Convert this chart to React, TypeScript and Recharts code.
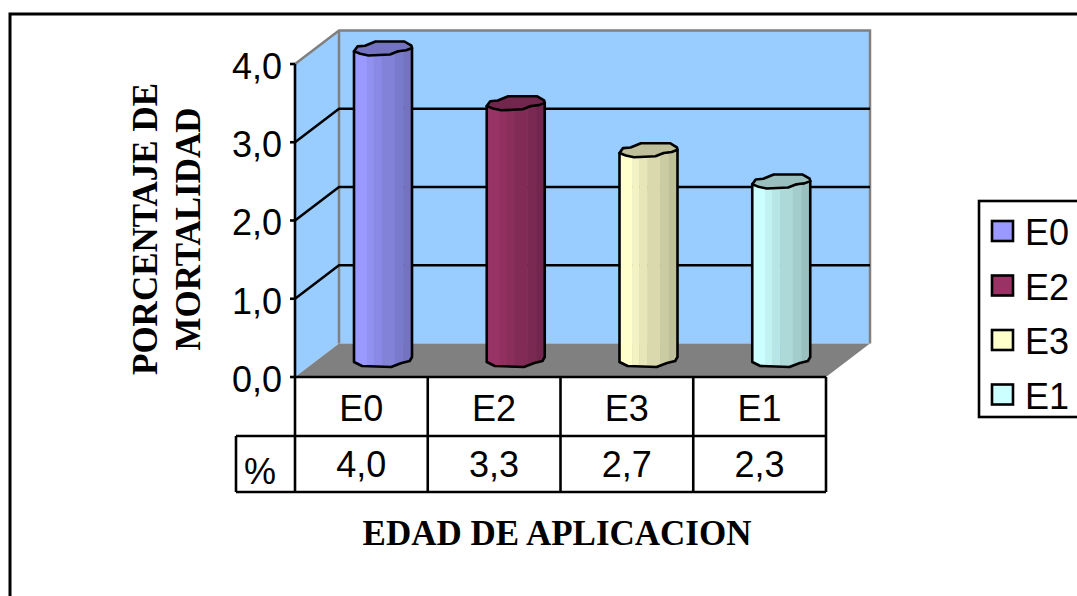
import React from 'react';
import { BarChart, Bar, XAxis, YAxis, CartesianGrid } from 'recharts';

const categories = ['E0', 'E2', 'E3', 'E1'];
const mortality = [4.0, 3.3, 2.7, 2.3];
const barColors = ['#9999FF', '#993366', '#FFFFCC', '#CCFFFF'];
const yTicks = [0, 1, 2, 3, 4];

const chartData = categories.map((name, index) => ({
  name,
  value: mortality[index],
  valueLabel: mortality[index].toFixed(1).replace('.', ','),
}));

const WIDTH = 1077;
const HEIGHT = 596;
// front plane of the plot
const LEFT = 295;
const RIGHT = 826;
const TOP = 64;
const BOTTOM = 377;
// depth of the fake 3D box
const DEPTH_X = 44;
const DEPTH_Y = 33.5;
const ROW = 58;

const WALL = '#99CCFF';
const GRAY = '#808080';
const SANS = '"Liberation Sans", Arial, sans-serif';
const SERIF = '"Liberation Serif", "Times New Roman", serif';

const shade = (hex: string, k: number) => {
  const n = parseInt(hex.slice(1), 16);
  const c = [(n >> 16) & 255, (n >> 8) & 255, n & 255].map((v) => Math.round(v * k));
  return `rgb(${c[0]},${c[1]},${c[2]})`;
};

// polygon-ish outline of the cylinder cap, traced from the old Excel render
const CAP = [
  [0, 0.7], [0.06, 0.35], [0.19, 0.3], [0.37, 0], [0.87, 0], [0.99, 0.3], [1, 0.47],
  [0.9, 0.63], [0.76, 0.7], [0.62, 0.93], [0.25, 1], [0.11, 0.88],
];
const BANDS = [
  [0, 0.22, 1],
  [0.22, 0.34, 0.95],
  [0.34, 0.48, 0.9],
  [0.48, 0.7, 0.85],
  [0.7, 0.85, 0.8],
  [0.85, 1, 0.75],
];

const Cylinder = (props: any) => {
  const { x, y, width, height, index } = props;
  const color = barColors[index];
  const left = x + DEPTH_X / 2;
  const right = left + width;
  const capH = 14;
  const top = y - 16 - capH / 2 + 0.5;
  const base = y + height - 16;
  const capPath = CAP.map(([a, b], i) => `${i ? 'L' : 'M'}${left + a * width},${top + b * capH}`).join(' ') + ' Z';
  const bodyTop = top + 0.7 * capH;
  const at = (a: number) => left + a * width;
  const outline = `M${left},${bodyTop} L${left},${base + 1} L${at(0.14)},${base + 5} L${at(0.64)},${base + 6} L${at(0.82)},${base + 2} L${at(0.96)},${base} L${right},${base - 4} L${right},${top + 0.47 * capH} L${at(0.76)},${bodyTop} Z`;
  const clipId = `body-${index}`;
  return (
    <g>
      <defs>
        <clipPath id={clipId}>
          <path d={outline} />
        </clipPath>
      </defs>
      <g clipPath={`url(#${clipId})`}>
        {BANDS.map(([a, b, k]) => (
          <rect key={a} x={at(a)} y={top} width={(b - a) * width + 0.5} height={base - top + 10} fill={shade(color, k)} />
        ))}
      </g>
      <path d={outline} fill="none" stroke="#000" strokeWidth={2.6} strokeLinejoin="round" />
      <path d={capPath} fill={shade(color, 0.75)} stroke="#000" strokeWidth={2.6} strokeLinejoin="round" />
    </g>
  );
};

// back wall, side wall and floor sit in their own svg behind the chart
const Backdrop = () => {
  const bx0 = LEFT + DEPTH_X;
  const bx1 = RIGHT + DEPTH_X;
  const by0 = TOP - DEPTH_Y;
  const by1 = BOTTOM - DEPTH_Y;
  return (
    <svg width={WIDTH} height={HEIGHT} style={{ position: 'absolute', left: 0, top: 0 }}>
      <rect x={10} y={14} width={WIDTH + 20} height={HEIGHT + 20} fill="#fff" stroke="#000" strokeWidth={3} />
      <polygon points={`${LEFT},${TOP} ${bx0},${by0} ${bx0},${by1} ${LEFT},${BOTTOM}`} fill={WALL} />
      <rect x={bx0} y={by0} width={bx1 - bx0} height={by1 - by0} fill={WALL} />
      <polygon points={`${LEFT},${BOTTOM} ${RIGHT},${BOTTOM} ${bx1},${by1} ${bx0},${by1}`} fill={GRAY} />
      <polyline points={`${LEFT},${TOP} ${bx0},${by0} ${bx1},${by0} ${bx1},${by1}`} fill="none" stroke={GRAY} strokeWidth={2.5} />
      <line x1={bx0} y1={by0} x2={bx0} y2={by1} stroke={GRAY} strokeWidth={2.5} />
    </svg>
  );
};

const GridLine = (props: any) => {
  const { x1, x2, y1, top, height, offset } = props;
  const t = top ?? offset?.top ?? TOP;
  const h = height ?? offset?.height ?? BOTTOM - TOP;
  if (Math.abs(y1 - t) < 1 || Math.abs(y1 - (t + h)) < 1) return <g key={y1} />;
  return (
    <polyline
      key={y1}
      points={`${x1},${y1} ${x1 + DEPTH_X},${y1 - DEPTH_Y} ${x2 + DEPTH_X},${y1 - DEPTH_Y}`}
      fill="none"
      stroke="#000"
      strokeWidth={2.5}
    />
  );
};

const DataTable = () => {
  const cell = (RIGHT - LEFT) / categories.length;
  const lines = [
    [LEFT - 59, BOTTOM + ROW + 1, RIGHT, BOTTOM + ROW + 1],
    [LEFT - 59, BOTTOM + ROW * 2 - 1, RIGHT, BOTTOM + ROW * 2 - 1],
    [LEFT - 59, BOTTOM + ROW + 1, LEFT - 59, BOTTOM + ROW * 2 - 1],
    [LEFT, BOTTOM, RIGHT, BOTTOM],
  ];
  return (
    <g>
      {lines.map((l, i) => (
        <line key={i} x1={l[0]} y1={l[1]} x2={l[2]} y2={l[3]} stroke="#000" strokeWidth={2.6} />
      ))}
      {[0, ...categories.map((_, i) => i + 1)].map((i) => (
        <line key={i} x1={LEFT + i * cell} y1={BOTTOM} x2={LEFT + i * cell} y2={BOTTOM + ROW * 2 - 1} stroke="#000" strokeWidth={2.6} />
      ))}
      <text x={LEFT - 35} y={BOTTOM + 107} textAnchor="middle" fontFamily={SANS} fontSize={36} fill="#000">%</text>
    </g>
  );
};

const Titles = () => (
  <g fontFamily={SERIF} fontWeight="bold" fill="#000" textAnchor="middle">
    <text x={557} y={545} fontSize={35}>EDAD DE APLICACION</text>
    <text transform="translate(157 229) rotate(-90)" fontSize={35}>PORCENTAJE DE</text>
    <text transform="translate(200 229) rotate(-90)" fontSize={35}>MORTALIDAD</text>
  </g>
);

const LegendBox = () => (
  <g>
    <rect x={979} y={201} width={WIDTH} height={216} fill="#fff" stroke="#000" strokeWidth={2.6} />
    {categories.map((name, i) => (
      <g key={name}>
        <rect x={992} y={221 + i * 54.5} width={21} height={20} fill={barColors[i]} stroke="#000" strokeWidth={2.6} />
        <text x={1025} y={245 + i * 54.5} fontFamily={SANS} fontSize={36} fill="#000">{name}</text>
      </g>
    ))}
  </g>
);

export default function App() {
  const tick = { fill: '#000', fontSize: 36, fontFamily: SANS };
  return (
    <div style={{ position: 'absolute', left: 0, top: 0, width: WIDTH, height: HEIGHT, overflow: 'hidden' }}>
      <Backdrop />
      <div style={{ position: 'absolute', left: 0, top: 0 }}>
        <BarChart
          width={WIDTH}
          height={HEIGHT}
          data={chartData}
          margin={{ top: TOP, left: LEFT - 60, right: WIDTH - RIGHT, bottom: HEIGHT - BOTTOM - ROW * 2 }}
          barCategoryGap={0}
        >
          <CartesianGrid vertical={false} horizontal={GridLine} />
          <XAxis dataKey="name" height={ROW} axisLine={false} tickLine={false} tick={tick} tickMargin={12} interval={0} />
          <XAxis xAxisId="values" dataKey="valueLabel" height={ROW} axisLine={false} tickLine={false} tick={tick} tickMargin={10} interval={0} />
          <YAxis
            width={60}
            type="number"
            domain={[0, 4]}
            ticks={yTicks}
            interval={0}
            tick={{ ...tick, dy: 2 }}
            tickSize={5}
            tickMargin={8}
            stroke="#000"
            strokeWidth={2.6}
            tickFormatter={(v: number) => v.toFixed(1).replace('.', ',')}
          />
          <Bar dataKey="value" barSize={58} shape={Cylinder} isAnimationActive={false} />
          <DataTable />
          <Titles />
          <LegendBox />
        </BarChart>
      </div>
    </div>
  );
}
